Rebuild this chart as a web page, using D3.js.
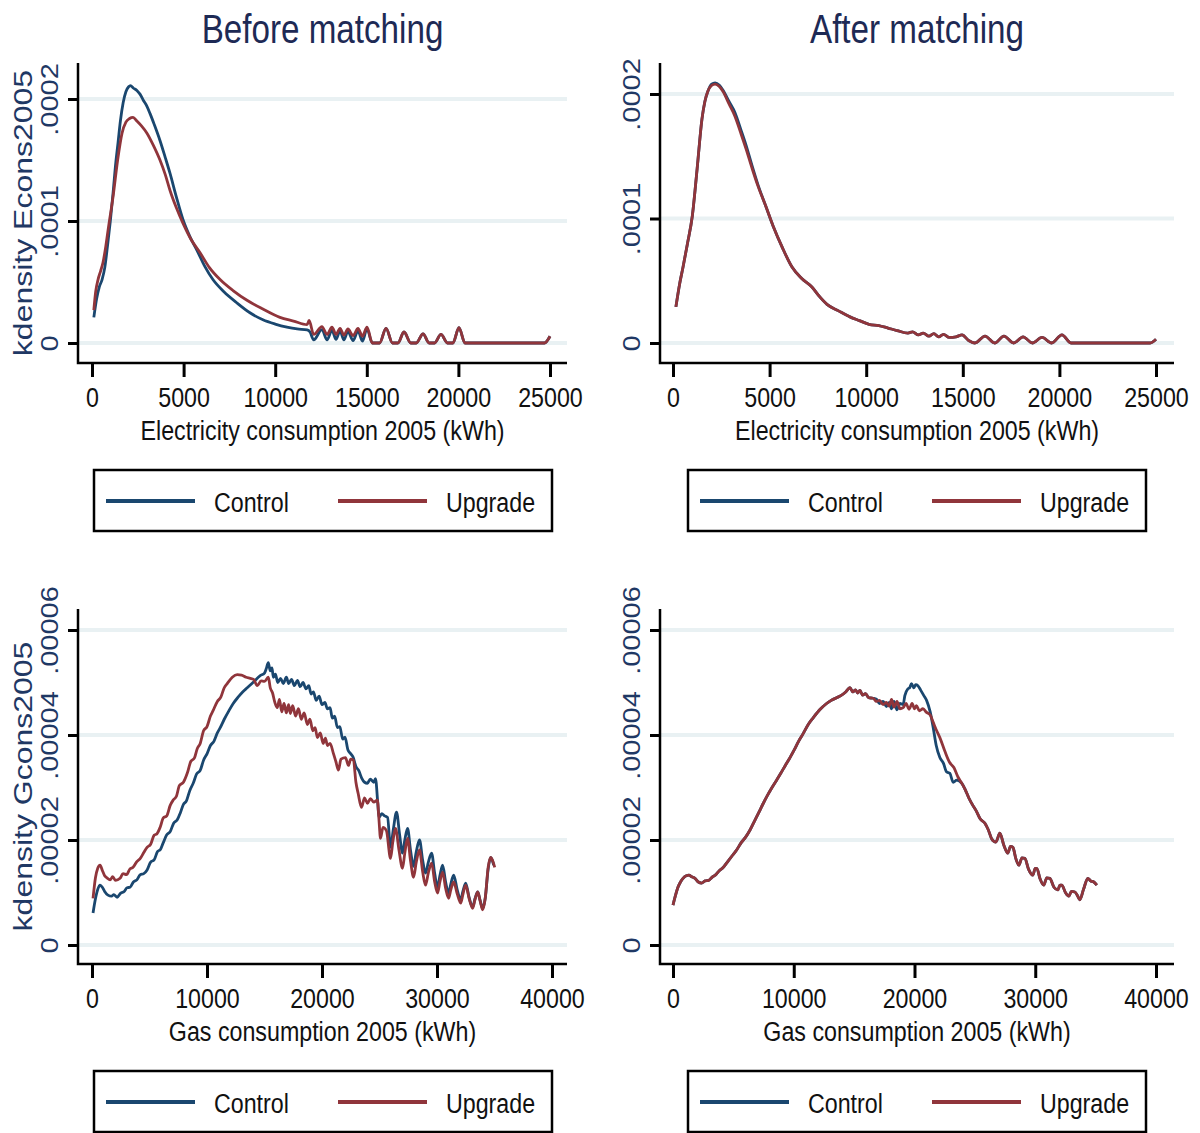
<!DOCTYPE html>
<html>
<head>
<meta charset="utf-8">
<script src="https://cdn.jsdelivr.net/npm/d3@7"></script>
<style>
  body { margin: 0; background: #fff; }
  svg { display: block; }
</style>
</head>
<body>
<svg id="chart" width="1200" height="1133"></svg>
<script>
// kdensity readings: [kWh, density]
// electricity densities are in units of 1e-5, gas densities in units of 1e-6

const elecBeforeControl = [
  [100, 2.1], [250, 3.6], [400, 4.6], [550, 5.2], [700, 6.2], [850, 8.0], [1000, 10.0],
  [1150, 12.3], [1300, 14.8], [1420, 16.4], [1550, 18.2], [1700, 19.7], [1850, 20.6],
  [2000, 21.0], [2100, 21.1], [2250, 20.9], [2450, 20.7], [2620, 20.4], [2800, 19.9],
  [3000, 19.4], [3170, 18.8], [3400, 17.9], [3710, 16.6], [4000, 15.2], [4260, 13.9],
  [4600, 12.0], [4970, 10.1], [5350, 8.7], [5730, 7.6], [6150, 6.3], [6600, 5.2],
  [7200, 4.2], [7900, 3.3], [8600, 2.5], [9330, 1.9], [10000, 1.55], [10640, 1.3],
  [11200, 1.15], [11740, 1.07], [11900, 0.9], [12100, 0.25], [12550, 1.1], [12830, 0.25],
  [13100, 1.05], [13320, 0.3], [13540, 1.0], [13750, 0.25], [13970, 0.95], [14250, 0.2],
  [14520, 1.0], [14760, 0.15], [15010, 1.15]
];
const elecBeforeUpgrade = [
  [100, 2.7], [200, 4.2], [330, 5.2], [470, 5.9], [600, 6.6], [750, 7.9], [900, 9.5],
  [1150, 12.0], [1400, 15.0], [1640, 17.2], [1850, 18.1], [2050, 18.4], [2240, 18.5],
  [2450, 18.2], [2700, 17.8], [3000, 17.2], [3350, 16.2], [3710, 15.0], [4000, 13.8],
  [4260, 12.5], [4600, 11.1], [4970, 9.8], [5400, 8.5], [5900, 7.4], [6400, 6.2],
  [6990, 5.2], [7700, 4.3], [8460, 3.5], [9300, 2.8], [10260, 2.1], [11000, 1.8],
  [11740, 1.5], [11850, 1.85], [12100, 0.7], [12550, 1.35], [12830, 0.7], [13100, 1.3],
  [13320, 0.7], [13540, 1.2], [13750, 0.65], [13970, 1.15], [14250, 0.6], [14520, 1.2],
  [14760, 0.55], [15010, 1.3]
];
const elecBeforeTail = [
  [15300, 0], [15700, 0], [16050, 1.2], [16400, 0], [16700, 0], [17030, 0.9], [17400, 0],
  [17700, 0], [18070, 0.75], [18400, 0], [18700, 0], [19050, 0.7], [19400, 0], [19700, 0],
  [20030, 1.25], [20360, 0], [24700, 0], [25000, 0.55]
];

const elecAfterHead = [
  [150, 2.9], [350, 4.8], [520, 6.1], [750, 8.0], [1000, 10.2], [1250, 14.0], [1500, 18.0],
  [1650, 19.4], [1800, 20.2]
];
const elecAfterControlMid = [
  [2000, 20.8], [2180, 20.9], [2400, 20.7], [2590, 20.3], [2900, 19.4], [3210, 18.5],
  [3500, 17.2], [3780, 15.9], [4100, 14.2], [4400, 12.7]
];
const elecAfterUpgradeMid = [
  [2000, 20.7], [2180, 20.8], [2400, 20.6], [2590, 20.2], [2900, 19.2], [3210, 18.2],
  [3500, 16.9], [3780, 15.6], [4100, 14.0], [4400, 12.6]
];
const elecAfterTail = [
  [4800, 11.0], [5180, 9.4], [5650, 7.7], [6160, 6.1], [6650, 5.2], [7190, 4.5], [7600, 3.7],
  [7970, 3.1], [8550, 2.6], [9160, 2.1], [9650, 1.8], [10150, 1.5], [10650, 1.4], [11130, 1.2],
  [11600, 1.0], [12160, 0.8], [12400, 0.9], [12700, 0.65], [12950, 0.8], [13250, 0.55],
  [13500, 0.75], [13750, 0.5], [14000, 0.7], [14300, 0.45], [14650, 0.5], [14960, 0.65],
  [15300, 0.2], [15630, 0], [16150, 0.55], [16650, 0], [17130, 0.55], [17630, 0],
  [18120, 0.5], [18600, 0], [19100, 0.45], [19600, 0], [20130, 0.65], [20600, 0],
  [24700, 0], [25000, 0.3]
];

const gasBeforeControl = [
  [90, 6.1], [300, 8.8], [500, 10.6], [700, 11.4], [900, 11.0], [1100, 10.2], [1390, 9.5],
  [1700, 9.3], [1900, 9.6], [2180, 9.1], [2500, 9.9], [2800, 10.2], [3050, 10.9], [3310, 11.0],
  [3600, 12.0], [3900, 12.4], [4200, 13.4], [4500, 13.6], [4790, 14.3], [5100, 15.8],
  [5400, 16.2], [5700, 17.8], [5950, 18.2], [6180, 19.4], [6500, 21.0], [6800, 21.6],
  [7100, 23.2], [7400, 23.8], [7670, 25.1], [7950, 26.8], [8200, 27.4], [8500, 29.4],
  [8800, 30.8], [9100, 32.6], [9400, 33.2], [9700, 35.2], [10020, 36.5], [10300, 38.0],
  [10600, 38.8], [10900, 40.4], [11150, 41.4], [11500, 43.0], [11900, 44.6], [12280, 46.0],
  [12700, 47.2], [13100, 48.2], [13500, 49.0], [14000, 50.0], [14630, 51.3], [15000, 51.8],
  [15150, 52.6], [15330, 53.8], [15500, 52.2], [15650, 52.8], [15770, 51.0], [15950, 51.6],
  [16150, 50.0], [16400, 50.8], [16640, 49.8], [16900, 51.0], [17100, 49.8], [17350, 50.6],
  [17600, 49.4], [17860, 50.4], [18100, 49.2], [18350, 50.0], [18600, 48.8], [18850, 49.4],
  [19050, 47.8], [19250, 48.2], [19500, 46.6], [19750, 47.4], [20000, 45.8], [20250, 46.2],
  [20470, 45.0], [20700, 45.2], [20900, 43.2], [21100, 43.6], [21340, 41.4], [21550, 41.6],
  [21800, 39.2], [22000, 39.6], [22250, 37.2], [22470, 36.5], [22700, 35.8], [22950, 34.0],
  [23200, 33.2], [23450, 31.8], [23700, 31.0], [23950, 30.8], [24200, 31.6], [24500, 31.0],
  [24650, 31.7], [24850, 27.0], [24950, 24.3], [25200, 25.0], [25450, 24.6], [25700, 24.3],
  [25960, 18.6], [26200, 22.0], [26480, 25.3], [26750, 21.0], [27000, 17.5], [27200, 20.0],
  [27440, 22.2], [27700, 18.0], [27960, 15.0], [28200, 17.8], [28480, 20.0], [28750, 16.2],
  [29000, 13.7], [29250, 15.8], [29530, 17.5], [29800, 13.6], [30050, 11.0], [30250, 13.2],
  [30490, 15.2], [30750, 12.0], [31010, 9.9], [31200, 11.6], [31450, 13.3], [31750, 10.6],
  [32060, 8.6], [32250, 10.2], [32490, 11.8], [32800, 9.0], [33100, 7.2], [33300, 8.8],
  [33540, 10.1], [33750, 8.5], [33970, 7.0], [34200, 9.0], [34450, 14.5], [34670, 16.7],
  [34800, 16.2], [34930, 15.2]
];
const gasBeforeUpgrade = [
  [90, 8.9], [300, 12.8], [500, 14.6], [700, 15.2], [900, 14.2], [1100, 13.2], [1300, 12.8],
  [1570, 12.4], [1800, 13.0], [2050, 12.3], [2440, 12.7], [2700, 13.6], [3000, 13.4],
  [3300, 14.5], [3570, 14.8], [3900, 15.9], [4200, 16.5], [4500, 17.6], [4790, 18.6],
  [5100, 19.2], [5400, 20.9], [5650, 21.2], [5920, 22.4], [6200, 24.2], [6500, 24.6],
  [6800, 26.6], [7060, 27.6], [7350, 28.4], [7600, 30.4], [7950, 31.0], [8280, 32.7],
  [8600, 35.0], [8900, 35.6], [9150, 37.4], [9410, 38.4], [9700, 40.8], [10000, 41.6],
  [10300, 43.6], [10540, 44.7], [10900, 46.4], [11200, 47.2], [11500, 49.0], [11760, 49.8],
  [12200, 51.0], [12630, 51.5], [13000, 51.4], [13400, 51.0], [13760, 50.8], [14050, 50.6],
  [14370, 49.4], [14700, 50.3], [15000, 50.2], [15330, 51.0], [15500, 49.0], [15700, 48.0],
  [15900, 46.2], [16110, 45.2], [16300, 46.8], [16500, 44.4], [16700, 46.0], [16900, 44.2],
  [17100, 45.8], [17250, 44.1], [17450, 45.6], [17700, 43.6], [17950, 45.0], [18200, 43.0],
  [18450, 44.2], [18730, 42.0], [18950, 43.0], [19200, 40.8], [19400, 41.4], [19600, 39.5],
  [19850, 40.4], [20100, 38.4], [20300, 39.4], [20470, 38.0], [20700, 38.4], [20990, 36.5],
  [21200, 35.0], [21430, 33.3], [21650, 35.4], [22040, 35.7], [22300, 34.2], [22500, 35.4],
  [22730, 35.2], [22950, 31.0], [23150, 28.8], [23430, 26.2], [23700, 28.0], [23950, 27.0],
  [24220, 27.9], [24500, 27.2], [24820, 27.6], [24950, 24.0], [25090, 20.3], [25300, 22.4],
  [25600, 21.8], [25960, 16.5], [26150, 19.5], [26390, 22.2], [26700, 18.0], [27000, 14.6],
  [27200, 17.5], [27440, 20.3], [27700, 16.0], [27960, 12.9], [28200, 15.8], [28480, 18.1],
  [28750, 14.0], [29000, 11.4], [29250, 13.8], [29530, 15.6], [29800, 12.0], [30050, 9.9],
  [30250, 12.0], [30490, 13.9], [30750, 10.8], [31010, 8.9], [31200, 10.5], [31450, 12.0],
  [31750, 9.8], [32060, 8.0], [32250, 9.6], [32490, 11.4], [32800, 8.8], [33100, 7.0],
  [33300, 8.6], [33540, 10.1], [33750, 8.4], [33970, 6.7], [34200, 9.0], [34450, 14.8],
  [34670, 16.7], [34850, 16.0], [35020, 14.8]
];

const gasAfterHead = [
  [0, 7.6], [200, 9.4], [410, 11.0], [620, 12.0], [830, 12.7], [1100, 13.2], [1320, 13.3],
  [1550, 13.0], [1820, 12.7], [2100, 12.0], [2370, 11.8], [2650, 12.2], [2950, 12.3],
  [3230, 12.9], [3500, 13.3], [3850, 14.2], [4170, 14.8], [4500, 15.8], [4900, 17.0],
  [5270, 18.1], [5650, 19.5], [6000, 20.5], [6380, 21.9], [6750, 23.6], [7100, 25.2],
  [7480, 27.0], [7800, 28.4], [8200, 30.0], [8580, 31.4], [8950, 32.8], [9300, 34.2],
  [9690, 35.7], [10050, 37.2], [10400, 38.8], [10790, 40.3], [11200, 42.0], [11620, 43.3],
  [12150, 44.8], [12720, 46.0], [13100, 46.6], [13550, 47.1], [13900, 47.5], [14300, 48.2],
  [14650, 49.0], [14900, 48.2], [15100, 48.6], [15300, 48.0], [15480, 48.5], [15700, 47.6],
  [15950, 47.9], [16200, 47.1], [16580, 47.0]
];
const gasAfterControlMid = [
  [16850, 46.8], [17100, 46.0], [17400, 46.4], [17680, 45.4], [17900, 46.2], [18100, 45.0],
  [18300, 46.4], [18550, 44.8], [18800, 46.0], [19060, 45.8], [19200, 47.5], [19450, 48.8],
  [19600, 49.0], [19750, 49.8], [19950, 49.0], [20100, 49.6], [20280, 49.4], [20500, 48.6],
  [20750, 47.6], [21000, 46.6], [21300, 44.4], [21550, 41.4], [21800, 38.0], [22100, 35.7],
  [22400, 34.6], [22650, 33.0], [22930, 32.7], [23200, 31.0], [23500, 31.4]
];
const gasAfterUpgradeMid = [
  [16850, 46.4], [17100, 46.6], [17400, 45.8], [17680, 46.2], [17900, 45.5], [18100, 46.8],
  [18300, 45.3], [18550, 46.4], [18800, 45.0], [19060, 45.2], [19300, 46.0], [19550, 44.9],
  [19800, 46.0], [20000, 45.0], [20170, 45.6], [20400, 44.6], [20700, 45.0], [21000, 44.3],
  [21300, 43.8], [21550, 42.4], [21800, 41.0], [22100, 39.5], [22500, 37.0], [22900, 34.8],
  [23260, 33.8], [23600, 32.0]
];
const gasAfterTail = [
  [23920, 30.8], [24200, 29.6], [24500, 28.0], [24830, 26.6], [25100, 25.6], [25450, 24.0],
  [25830, 23.2], [26100, 22.0], [26400, 20.2], [26740, 19.6], [27070, 21.3], [27400, 19.0],
  [27730, 17.5], [27950, 18.8], [28150, 18.6], [28400, 16.4], [28640, 15.2], [28900, 16.6],
  [29140, 16.5], [29450, 14.4], [29800, 13.3], [30000, 14.6], [30130, 14.6], [30400, 12.6],
  [30710, 11.4], [30950, 12.8], [31210, 12.7], [31550, 11.0], [31870, 10.5], [32050, 11.4],
  [32200, 11.4], [32500, 10.0], [32780, 9.3], [33000, 10.2], [33280, 10.1], [33500, 9.4],
  [33690, 8.6], [34000, 10.6], [34350, 12.7], [34600, 12.2], [34850, 12.0], [35100, 11.4]
];

const elecXTicks = [0, 5000, 10000, 15000, 20000, 25000];
const gasXTicks = [0, 10000, 20000, 30000, 40000];
const elecYTicks = [0, 0.0001, 0.0002];
const elecYLabels = ["0", ".0001", ".0002"];
const gasYTicks = [0, 0.00002, 0.00004, 0.00006];
const gasYLabels = ["0", ".00002", ".00004", ".00006"];
const seriesNames = ["Control", "Upgrade"];
const seriesColors = ["#1a476f", "#90353b"];

const svg = d3.select("#chart");
const font = "'Liberation Sans', Arial, Helvetica, sans-serif";
const squeeze = 0.83; // the original graph was squashed horizontally
const gridColor = "#e9f1f3";
const labelBlue = "#1f3864";

const panels = [
  {
    title: "Before matching", ytitle: "kdensity Econs2005", xtitle: "Electricity consumption 2005 (kWh)",
    series: [elecBeforeControl.concat(elecBeforeTail), elecBeforeUpgrade.concat(elecBeforeTail)],
    unit: 1e-5, xDomain: [0, 25000], xTicks: elecXTicks, yTicks: elecYTicks, yLabels: elecYLabels,
    axisX: 78, right: 567, top: 63, base: 363, xRange: [92, 550], yRange: [343, 99], legendX: 94
  },
  {
    title: "After matching", ytitle: null, xtitle: "Electricity consumption 2005 (kWh)",
    series: [elecAfterHead.concat(elecAfterControlMid, elecAfterTail),
             elecAfterHead.concat(elecAfterUpgradeMid, elecAfterTail)],
    unit: 1e-5, xDomain: [0, 25000], xTicks: elecXTicks, yTicks: elecYTicks, yLabels: elecYLabels,
    axisX: 660, right: 1174, top: 63, base: 363, xRange: [673, 1156], yRange: [343, 94], legendX: 688
  },
  {
    title: null, ytitle: "kdensity Gcons2005", xtitle: "Gas consumption 2005 (kWh)",
    series: [gasBeforeControl, gasBeforeUpgrade],
    unit: 1e-6, xDomain: [0, 40000], xTicks: gasXTicks, yTicks: gasYTicks, yLabels: gasYLabels,
    axisX: 78, right: 567, top: 609, base: 964, xRange: [92, 552], yRange: [945, 630], legendX: 94
  },
  {
    title: null, ytitle: null, xtitle: "Gas consumption 2005 (kWh)",
    series: [gasAfterHead.concat(gasAfterControlMid, gasAfterTail),
             gasAfterHead.concat(gasAfterUpgradeMid, gasAfterTail)],
    unit: 1e-6, xDomain: [0, 40000], xTicks: gasXTicks, yTicks: gasYTicks, yLabels: gasYLabels,
    axisX: 660, right: 1174, top: 609, base: 964, xRange: [673, 1156], yRange: [945, 630], legendX: 688
  }
];

const squeezed = (x, y, rot) =>
  `translate(${x},${y}) scale(${squeeze},1)` + (rot ? ` rotate(${rot})` : "");

panels.forEach(p => {
  const x = d3.scaleLinear().domain(p.xDomain).range(p.xRange);
  const y = d3.scaleLinear().domain([0, p.yTicks[p.yTicks.length - 1]]).range(p.yRange);
  const g = svg.append("g");
  const mid = (p.axisX + p.right) / 2;

  // grid
  g.selectAll(".grid").data(p.yTicks).enter()
    .append("line")
    .attr("x1", p.axisX + 1).attr("x2", p.right)
    .attr("y1", d => y(d)).attr("y2", d => y(d))
    .attr("stroke", gridColor)
    .attr("stroke-width", 4);

  // axes
  const yAxis = d3.axisLeft(y)
    .tickValues(p.yTicks)
    .tickFormat((d, i) => p.yLabels[i])
    .tickSize(10)
    .tickSizeOuter(0);
  const ya = g.append("g").attr("transform", `translate(${p.axisX},0)`).call(yAxis);
  ya.select(".domain").remove();
  ya.selectAll(".tick line").attr("stroke", "#000").attr("stroke-width", 3);
  ya.selectAll(".tick text")
    .attr("x", 0).attr("y", -20 / squeeze).attr("dy", null)
    .attr("transform", `scale(${squeeze},1) rotate(-90)`)
    .attr("text-anchor", "middle")
    .attr("fill", labelBlue)
    .style("font-family", font).style("font-size", "29px");

  const xAxis = d3.axisBottom(x)
    .tickValues(p.xTicks)
    .tickFormat(d3.format("d"))
    .tickSize(14)
    .tickSizeOuter(0);
  const xa = g.append("g").attr("transform", `translate(0,${p.base})`).call(xAxis);
  xa.select(".domain").remove();
  xa.selectAll(".tick line").attr("stroke", "#000").attr("stroke-width", 3);
  xa.selectAll(".tick text")
    .attr("y", 44).attr("dy", null)
    .attr("transform", `scale(${squeeze},1)`)
    .attr("fill", "#111")
    .style("font-family", font).style("font-size", "28px");

  g.append("path")
    .attr("d", `M${p.axisX},${p.top}V${p.base}H${p.right}`)
    .attr("fill", "none")
    .attr("stroke", "#000")
    .attr("stroke-width", 2.5);

  // density curves
  const line = d3.line()
    .x(d => x(d[0]))
    .y(d => y(d[1] * p.unit))
    .curve(d3.curveMonotoneX);

  p.series.forEach((s, i) => {
    g.append("path")
      .attr("d", line(s))
      .attr("fill", "none")
      .attr("stroke", seriesColors[i])
      .attr("stroke-width", 2.8)
      .attr("stroke-linejoin", "round");
  });

  // titles
  if (p.title) {
    g.append("text")
      .attr("transform", squeezed(mid, 43))
      .attr("text-anchor", "middle")
      .attr("fill", "#1e2a55")
      .style("font-family", font).style("font-size", "40px")
      .text(p.title);
  }
  if (p.ytitle) {
    g.append("text")
      .attr("transform", squeezed(32, (p.top + p.base) / 2, -90))
      .attr("text-anchor", "middle")
      .attr("fill", labelBlue)
      .style("font-family", font).style("font-size", "32px")
      .text(p.ytitle);
  }
  g.append("text")
    .attr("transform", squeezed(mid, p.base + 77))
    .attr("text-anchor", "middle")
    .attr("fill", "#111")
    .style("font-family", font).style("font-size", "28px")
    .text(p.xtitle);

  // legend
  const ly = p.base + 107;
  const lg = g.append("g").attr("transform", `translate(${p.legendX},${ly})`);
  lg.append("rect")
    .attr("x", 0).attr("y", 0).attr("width", 458).attr("height", 61)
    .attr("fill", "#fff").attr("stroke", "#000").attr("stroke-width", 2.5);
  seriesNames.forEach((name, i) => {
    const ox = 12 + i * 232;
    lg.append("line")
      .attr("x1", ox).attr("x2", ox + 89)
      .attr("y1", 31).attr("y2", 31)
      .attr("stroke", seriesColors[i]).attr("stroke-width", 4);
    lg.append("text")
      .attr("transform", squeezed(ox + 108, 42))
      .attr("fill", "#111")
      .style("font-family", font).style("font-size", "28px")
      .text(name);
  });
});
</script>
</body>
</html>
